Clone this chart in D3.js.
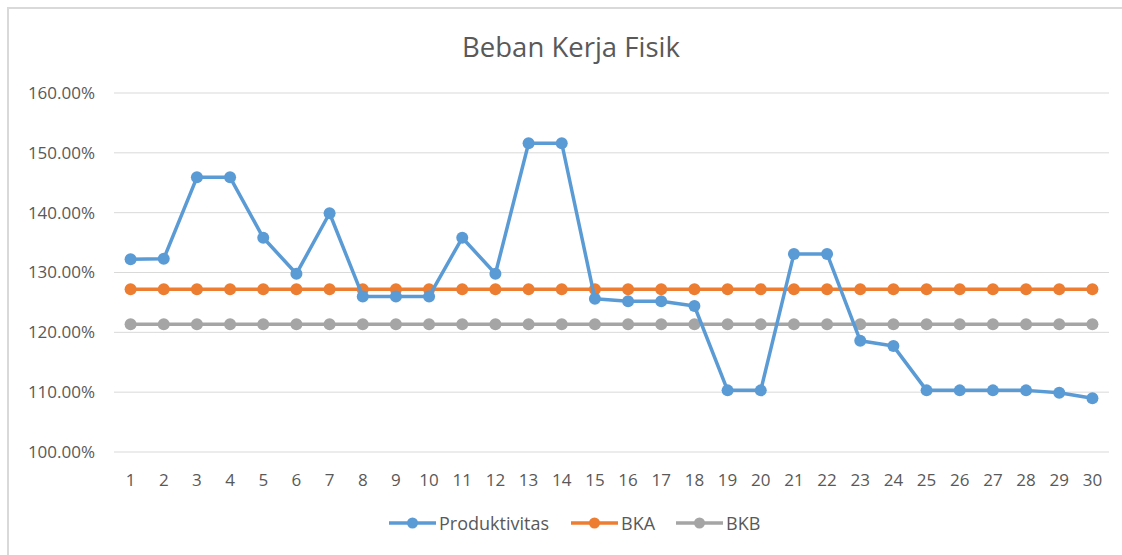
<!DOCTYPE html>
<html>
<head>
<meta charset="utf-8">
<script src="https://cdn.jsdelivr.net/npm/d3@7"></script>
<style>
  body { margin: 0; background: #fff; overflow: hidden; }
  text { font-family: "Open Sans", "Noto Sans", sans-serif; fill: #595959; }
</style>
</head>
<body>
<div id="chart"></div>
<script>
// chart data
let categories = d3.range(1, 31).map(String);
let produktivitas = [132.2, 132.3, 145.9, 145.9, 135.8, 129.8, 139.9, 126.0, 126.0, 126.0,
  135.8, 129.8, 151.6, 151.6, 125.6, 125.2, 125.2, 124.4, 110.3, 110.3,
  133.1, 133.1, 118.6, 117.7, 110.3, 110.3, 110.3, 110.3, 109.9, 109.0];
let bka = categories.map(() => 127.2);
let bkb = categories.map(() => 121.35);
let yTicks = [100, 110, 120, 130, 140, 150, 160];

let series = [
  { name: "Produktivitas", values: produktivitas, color: "#5B9BD5" },
  { name: "BKA", values: bka, color: "#ED7D31" },
  { name: "BKB", values: bkb, color: "#A5A5A5" }
];

let svgWidth = 1122;
let svgHeight = 555;
let margin = { top: 93, right: 13, bottom: 103, left: 114 };
let chartWidth = svgWidth - margin.left - margin.right;
let chartHeight = svgHeight - margin.top - margin.bottom;

let svg = d3.select("#chart")
  .append("svg")
  .attr("width", svgWidth)
  .attr("height", svgHeight)
  .style("display", "block");

// outer chart border: only the top and left edges are in view
svg.append("path")
  .attr("d", `M8,${svgHeight} V8 H${svgWidth}`)
  .attr("fill", "none")
  .attr("stroke", "#d9d9d9")
  .attr("stroke-width", 2);

svg.append("text")
  .attr("x", 571)
  .attr("y", 57)
  .attr("text-anchor", "middle")
  .style("font-size", "27.5px")
  .text("Beban Kerja Fisik");

let g = svg.append("g")
  .attr("transform", `translate(${margin.left}, ${margin.top})`);

let x = d3.scaleBand()
  .domain(categories)
  .range([0, chartWidth]);

let y = d3.scaleLinear()
  .domain([100, 160])
  .range([chartHeight, 0]);

// gridlines
g.append("g")
  .selectAll("line")
  .data(yTicks)
  .enter()
  .append("line")
  .attr("x1", 0)
  .attr("x2", chartWidth)
  .attr("y1", d => y(d))
  .attr("y2", d => y(d))
  .attr("stroke", "#d9d9d9")
  .attr("stroke-width", 1);

let leftAxis = d3.axisLeft(y)
  .tickValues(yTicks)
  .tickSize(0)
  .tickPadding(19)
  .tickFormat(d => d.toFixed(2) + "%");

g.append("g")
  .call(leftAxis)
  .call(a => a.select(".domain").remove())
  .selectAll("text")
  .style("font-size", "17px")
  .style("fill", "#595959");

let bottomAxis = d3.axisBottom(x)
  .tickSize(0)
  .tickPadding(22);

g.append("g")
  .attr("transform", `translate(0, ${chartHeight})`)
  .call(bottomAxis)
  .call(a => a.select(".domain").remove())
  .selectAll("text")
  .style("font-size", "17px")
  .style("fill", "#595959");

let line = d3.line()
  .x((d, i) => x(categories[i]) + x.bandwidth() / 2)
  .y(d => y(d));

// draw in reverse so Produktivitas sits on top
series.slice().reverse().forEach(s => {
  g.append("path")
    .datum(s.values)
    .attr("fill", "none")
    .attr("stroke", s.color)
    .attr("stroke-width", 3.5)
    .attr("stroke-linejoin", "round")
    .attr("d", line);

  g.selectAll(null)
    .data(s.values)
    .enter()
    .append("circle")
    .attr("cx", (d, i) => x(categories[i]) + x.bandwidth() / 2)
    .attr("cy", d => y(d))
    .attr("r", 6)
    .attr("fill", s.color);
});

// legend
let legendX = [389, 571, 676];
let legend = svg.append("g");
series.forEach((s, i) => {
  let lg = legend.append("g").attr("transform", `translate(${legendX[i]}, 523)`);
  lg.append("line")
    .attr("x1", 0).attr("x2", 47)
    .attr("y1", 0).attr("y2", 0)
    .attr("stroke", s.color)
    .attr("stroke-width", 3.5);
  lg.append("circle")
    .attr("cx", 23.5).attr("cy", 0)
    .attr("r", 5.5)
    .attr("fill", s.color);
  lg.append("text")
    .attr("x", 50)
    .attr("y", 6.5)
    .style("font-size", "18px")
    .text(s.name);
});
</script>
</body>
</html>
